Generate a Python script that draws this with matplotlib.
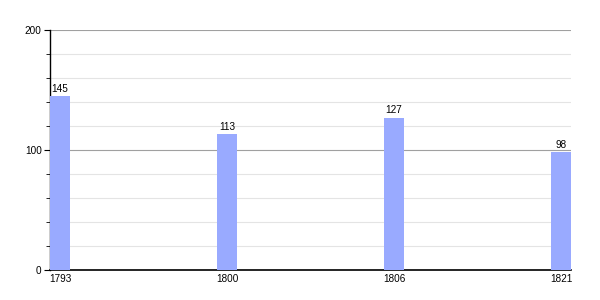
import matplotlib
matplotlib.use('Agg')
import matplotlib.pyplot as plt
from matplotlib.ticker import MultipleLocator

plt.rcParams['font.family'] = ['Liberation Sans', 'DejaVu Sans']

years = ['1793', '1800', '1806', '1821']
population = [145, 113, 127, 98]

fig = plt.figure(figsize=(6, 3), dpi=100)
ax = fig.add_axes([50 / 600, 30 / 300, 521 / 600, 240 / 300])

pos = list(range(len(years)))
ax.bar(pos, population, width=0.12, color='#99aaff', zorder=3)
for x, v in zip(pos, population):
    ax.text(x, v + 2, str(v), ha='center', va='bottom', fontsize=7.2, color='#000000', zorder=4)

ax.set_xlim(-0.06, len(years) - 1 + 0.06)
ax.set_ylim(0, 200)
ax.set_xticks(pos)
ax.set_xticklabels(years)
ax.yaxis.set_major_locator(MultipleLocator(100))
ax.yaxis.set_minor_locator(MultipleLocator(20))
ax.grid(axis='y', which='minor', color='#e4e4e4', linewidth=0.8, zorder=1)
ax.grid(axis='y', which='major', color='#a0a0a0', linewidth=0.8, zorder=2)

for s in ['top', 'right']:
    ax.spines[s].set_visible(False)
ax.spines['left'].set_linewidth(1)
ax.spines['bottom'].set_linewidth(1.2)
ax.tick_params(axis='x', length=0, labelsize=7.2, pad=3)
ax.tick_params(axis='y', which='major', length=4, labelsize=7.2, pad=2)
ax.tick_params(axis='y', which='minor', length=3)

fig.savefig('out.png', dpi=100)
